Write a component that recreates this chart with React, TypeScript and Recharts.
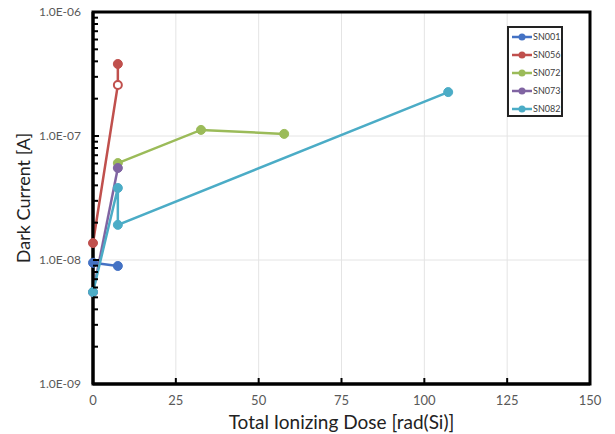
import React from 'react'
import {
  LineChart,
  Line,
  XAxis,
  YAxis,
  CartesianGrid,
  ReferenceArea,
} from 'recharts'

// values (x = dose in rad(Si), y = dark current in A)
const SN001 = [
  { x: 0, y: 9.5e-9 },
  { x: 7.5, y: 8.95e-9 },
]
const SN056 = [
  { x: 0, y: 1.37e-8 },
  { x: 7.5, y: 2.58e-7 },
  { x: 7.5, y: 3.81e-7 },
]
const SN056_OPEN_INDEX = 1
const SN072 = [
  { x: 7.5, y: 6.05e-8 },
  { x: 32.6, y: 1.12e-7 },
  { x: 57.7, y: 1.04e-7 },
]
const SN073 = [
  { x: 0, y: 5.5e-9 },
  { x: 7.5, y: 5.52e-8 },
]
const SN082 = [
  { x: 0, y: 5.52e-9 },
  { x: 7.5, y: 3.81e-8 },
  { x: 7.5, y: 1.92e-8 },
  { x: 107.2, y: 2.26e-7 },
]

const X_TICKS = [0, 25, 50, 75, 100, 125, 150]
const Y_MAJOR = [1e-9, 1e-8, 1e-7, 1e-6]
const Y_MINOR_MULT = [2, 3, 4, 5, 6, 7, 8, 9]

const SERIES = [
  { name: 'SN001', data: SN001, color: '#4472C4' },
  { name: 'SN056', data: SN056, color: '#C0504D' },
  { name: 'SN072', data: SN072, color: '#9BBB59' },
  { name: 'SN073', data: SN073, color: '#8064A2' },
  { name: 'SN082', data: SN082, color: '#4BACC6' },
]

const FONT = 'Lato, "Open Sans", sans-serif'
const LABEL_GRAY = '#595959'

const yTicks: number[] = []
Y_MAJOR.slice(0, 3).forEach(d => {
  yTicks.push(d)
  Y_MINOR_MULT.forEach(m => yTicks.push(+(m * d).toPrecision(3)))
})
yTicks.push(Y_MAJOR[3])

const isMajor = (v: number) => Y_MAJOR.some(m => Math.abs(v - m) / m < 1e-6)

const fmtExp = (v: number) => {
  const e = Math.round(Math.log10(v))
  const sign = e < 0 ? '-' : '+'
  return `1.0E${sign}${String(Math.abs(e)).padStart(2, '0')}`
}

function YTick(props: any) {
  const { x, y, payload } = props
  const major = isMajor(payload.value)
  const ax = x + 12
  return (
    <g>
      <line x1={ax} x2={ax + (major ? 6 : 5)} y1={y} y2={y} stroke="#000" strokeWidth={2} />
      {major && (
        <text x={x} y={y} dy="0.35em" textAnchor="end" fontSize={12} fill={LABEL_GRAY} fontFamily={FONT}>
          {fmtExp(payload.value)}
        </text>
      )}
    </g>
  )
}

function XTick(props: any) {
  const { x, y, payload } = props
  const inner = payload.value > 0 && payload.value < 150
  return (
    <g>
      {inner && <line x1={x} x2={x} y1={y - 12} y2={y - 18} stroke="#000" strokeWidth={2} />}
      <text x={x} y={y} dy="0.71em" textAnchor="middle" fontSize={13} fill={LABEL_GRAY} fontFamily={FONT}>
        {payload.value}
      </text>
    </g>
  )
}

function RedDot(props: any) {
  const { cx, cy, index } = props
  if (cx == null || cy == null) return null
  const open = index === SN056_OPEN_INDEX
  return (
    <circle
      key={`red-${index}`}
      cx={cx}
      cy={cy}
      r={open ? 4 : 4.5}
      fill={open ? '#fff' : '#C0504D'}
      stroke="#C0504D"
      strokeWidth={open ? 2 : 1}
    />
  )
}

function LegendBox() {
  return (
    <div
      style={{
        position: 'absolute',
        left: 507,
        top: 26,
        width: 56,
        height: 91,
        border: '2px solid #222',
        boxSizing: 'border-box',
        background: '#fff',
        paddingTop: 0,
      }}
    >
      {SERIES.map(s => (
        <div key={s.name} style={{ display: 'flex', alignItems: 'center', height: 18 }}>
          <svg width={22} height={10} style={{ marginLeft: 2, flexShrink: 0 }}>
            <line x1={1} x2={21} y1={5} y2={5} stroke={s.color} strokeWidth={2.5} />
            <circle cx={11} cy={5} r={3.5} fill={s.color} />
          </svg>
          <span style={{ fontSize: 9, color: '#404040', fontFamily: FONT, lineHeight: '10px' }}>{s.name}</span>
        </div>
      ))}
    </div>
  )
}

export default function App() {
  return (
    <div style={{ position: 'absolute', left: 0, top: 0, width: 615, height: 434, background: '#fff' }}>
      <LineChart width={615} height={434} margin={{ top: 12, right: 25, left: 0, bottom: 0 }}>
        <CartesianGrid
          stroke="#e4e4e4"
          strokeWidth={1}
          verticalValues={[25, 50, 75, 100, 125]}
          horizontalValues={[1e-8, 1e-7]}
        />
        <XAxis
          type="number"
          dataKey="x"
          domain={[0, 150]}
          ticks={X_TICKS}
          height={50}
          tickSize={0}
          tickMargin={12}
          tickLine={false}
          tick={<XTick />}
          axisLine={{ stroke: '#000', strokeWidth: 3 }}
          label={{
            value: 'Total Ionizing Dose [rad(Si)]',
            position: 'insideBottom',
            offset: 5,
            fontSize: 19,
            fill: '#222',
            fontFamily: FONT,
          }}
        />
        <YAxis
          type="number"
          dataKey="y"
          scale="log"
          domain={[1e-9, 1e-6]}
          ticks={yTicks}
          width={93}
          tickSize={0}
          tickMargin={12}
          tickLine={false}
          tick={<YTick />}
          interval={0}
          axisLine={{ stroke: '#000', strokeWidth: 3 }}
          label={{
            value: 'Dark Current [A]',
            angle: -90,
            position: 'insideLeft',
            offset: 24,
            fontSize: 18,
            fill: '#222',
            fontFamily: FONT,
            style: { textAnchor: 'middle' },
          }}
        />
        <ReferenceArea
          x1={0}
          x2={150}
          y1={1e-9}
          y2={1e-6}
          fill="none"
          stroke="#000"
          strokeWidth={3}
          ifOverflow="visible"
        />
        {SERIES.map(s => (
          <Line
            key={s.name}
            name={s.name}
            data={s.data}
            dataKey="y"
            type="linear"
            stroke={s.color}
            strokeWidth={2.5}
            dot={s.name === 'SN056' ? <RedDot /> : { r: 4.5, fill: s.color, stroke: s.color, strokeWidth: 1 }}
            activeDot={false}
            isAnimationActive={false}
          />
        ))}
      </LineChart>
      <LegendBox />
    </div>
  )
}
